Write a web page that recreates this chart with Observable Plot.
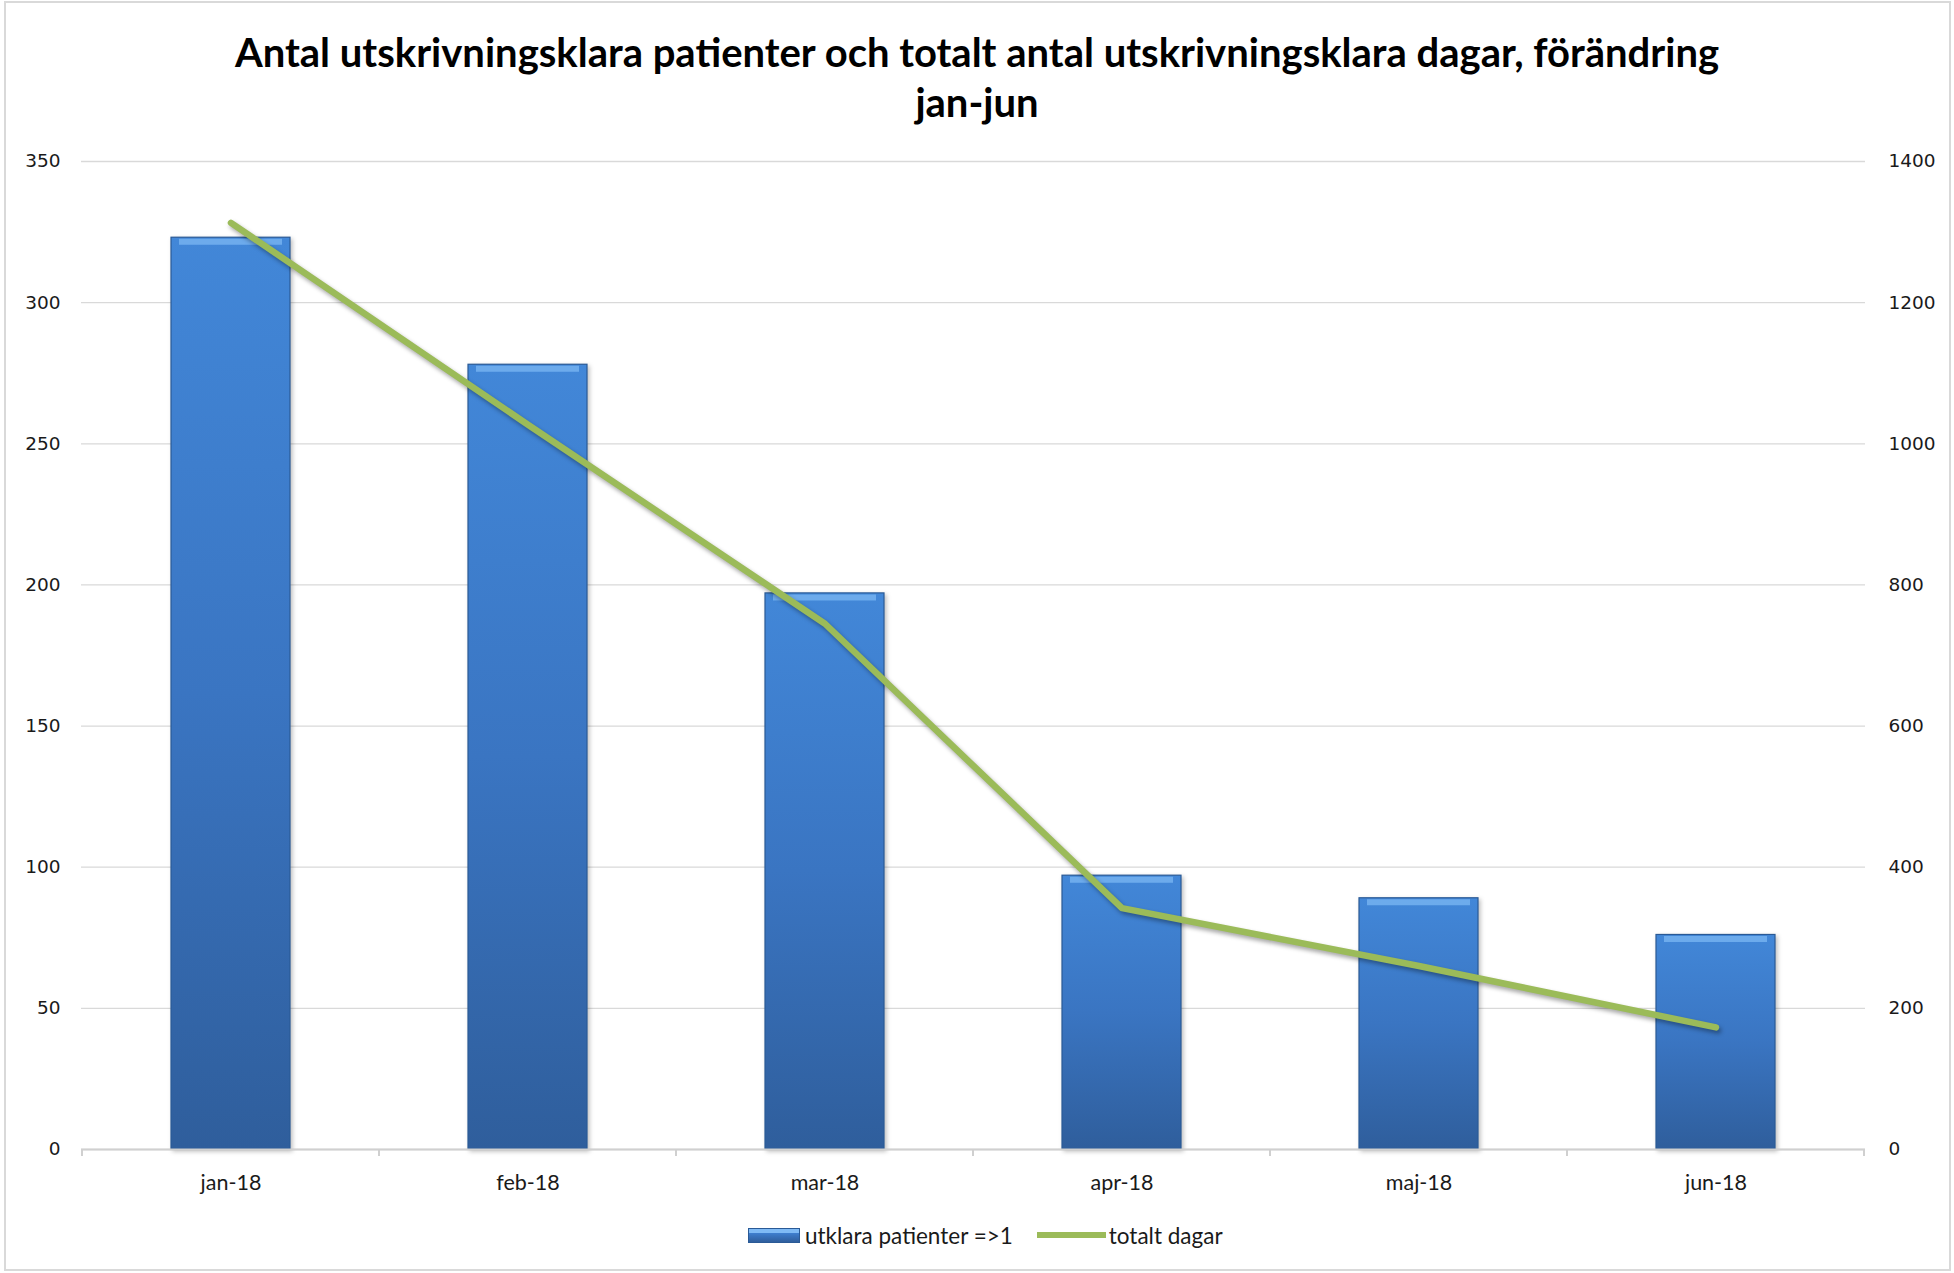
<!DOCTYPE html>
<html><head><meta charset="utf-8">
<script src="https://cdn.jsdelivr.net/npm/d3@7"></script>
<script src="https://cdn.jsdelivr.net/npm/@observablehq/plot@0.6"></script>
<style>
body{margin:0;background:#fff;}
#wrap{position:relative;width:1954px;height:1273px;overflow:hidden;background:#fff;}
#frame{position:absolute;left:4px;top:1px;width:1947px;height:1270px;border:2px solid #d9d9d9;box-sizing:border-box;}
#title{position:absolute;left:0;top:27px;width:1954px;text-align:center;font-family:Lato,"Open Sans",sans-serif;font-weight:bold;font-size:40px;line-height:50px;color:#000;}
#chart{position:absolute;left:0;top:120px;}
#legend{position:absolute;top:1222px;left:748px;height:26px;display:flex;align-items:center;font-family:Lato,sans-serif;font-size:22.5px;color:#1a1a1a;white-space:nowrap;}
.sw-bar{width:50px;height:13px;border:1px solid #2a5a96;background:linear-gradient(#7fbaf5 0,#7fbaf5 30%,#3f7fd0 30%,#2f5e9c 100%);margin-right:5px;}
.sw-line{width:69px;height:6px;background:#9bbb59;margin-left:24px;margin-right:3px;}
</style>
</head>
<body>
<div id="wrap">
  <div id="frame"></div>
  <div id="title">Antal utskrivningsklara patienter och totalt antal utskrivningsklara dagar, förändring<br>jan-jun</div>
  <div id="chart"></div>
  <div id="legend"><div class="sw-bar"></div><span>utklara patienter =&gt;1</span><div class="sw-line"></div><span>totalt dagar</span></div>
</div>
<script>
const months = ["jan-18","feb-18","mar-18","apr-18","maj-18","jun-18"];
const patienter = [323, 278, 197, 97, 89, 76];
const dagar = [1313, 1027, 745, 342, 260, 173];
const leftTicks = [0, 50, 100, 150, 200, 250, 300, 350];
const rightTicks = [0, 200, 400, 600, 800, 1000, 1200, 1400];
const ratio = 1400 / 350;

const data = months.map((m, i) => ({month: m, pat: patienter[i], dagar: dagar[i]}));

const chart = Plot.plot({
  width: 1954,
  height: 1100,
  marginTop: 41,
  marginBottom: 71,
  marginLeft: 81,
  marginRight: 89,
  x: {domain: months, paddingInner: 0.6, paddingOuter: 0.3, label: null},
  y: {domain: [0, 350], label: null},
  style: {fontFamily: "'DejaVu Sans', sans-serif", fontSize: "18px", color: "#1a1a1a", background: "transparent", overflow: "visible"},
  marks: [
    Plot.gridY(leftTicks, {stroke: "#d9d9d9", strokeOpacity: 1, strokeWidth: 1.3}),
    Plot.barY(data, {x: "month", y: "pat", fill: "url(#barGrad)", stroke: "#2a5a96", strokeWidth: 1.2}),
    Plot.tickY(data, {x: "month", y: "pat", dy: 4, stroke: "#74b2f0", strokeOpacity: 0.85, strokeWidth: 6, insetLeft: 8, insetRight: 8}),
    Plot.ruleY([0], {stroke: "#d0d0d0", strokeWidth: 2}),
    Plot.axisY(leftTicks, {anchor: "left", label: null, tickSize: 0, tickPadding: 21, fontSize: 18.5}),
    Plot.axisY(rightTicks.map(v => v / ratio), {anchor: "right", label: null, tickSize: 0, tickPadding: 23, fontSize: 18.5, tickFormat: v => String(Math.round(v * ratio))}),
    Plot.axisX({label: null, tickSize: 0, tickPadding: 25, fontFamily: "Lato, sans-serif", fontSize: 21.5}),
    Plot.line(data, {x: "month", y: d => d.dagar / ratio, stroke: "#9bbb59", strokeWidth: 6.5, strokeLinecap: "round", strokeLinejoin: "round"})
  ]
});

const svg = d3.select(chart);
const defs = svg.insert("defs", ":first-child");
const g = defs.append("linearGradient").attr("id", "barGrad").attr("x1", 0).attr("y1", 0).attr("x2", 0).attr("y2", 1);
g.append("stop").attr("offset", "0%").attr("stop-color", "#4287d8");
g.append("stop").attr("offset", "50%").attr("stop-color", "#3a75c2");
g.append("stop").attr("offset", "100%").attr("stop-color", "#2f5e9c");

svg.selectAll('g[aria-label="line"]').style("filter", "drop-shadow(2px 3px 2px rgba(0,0,0,0.35))");
svg.selectAll('g[aria-label="bar"]').style("filter", "drop-shadow(2px 2px 2px rgba(0,0,0,0.25))");

// category boundary ticks on the x axis
const xs = chart.scale("x");
const ys = chart.scale("y");
const y0 = ys.apply(0);
const off = (xs.step - xs.bandwidth) / 2;
const bounds = months.map(m => xs.apply(m) - off);
bounds.push(xs.apply(months[months.length - 1]) + xs.bandwidth + off);
svg.append("g").selectAll("line").data(bounds).join("line")
  .attr("x1", d => d).attr("x2", d => d).attr("y1", y0).attr("y2", y0 + 7)
  .attr("stroke", "#d0d0d0").attr("stroke-width", 2);

document.getElementById("chart").appendChild(chart);
</script>
</body></html>
